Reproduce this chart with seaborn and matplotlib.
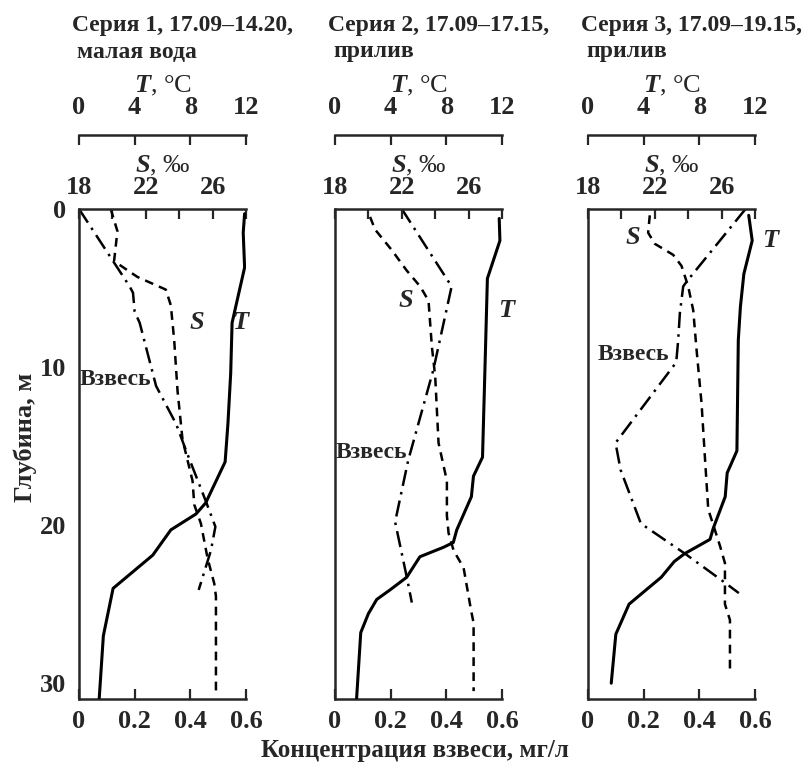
import matplotlib
matplotlib.use("Agg")
import matplotlib.pyplot as plt
import seaborn as sns
import pandas as pd

# ---------------- data ----------------
# Series 1
t1_depth = [0.3, 1.5, 3.7, 7.2, 10.4, 13.6, 16.0, 18.6, 19.3, 20.3, 21.9, 24.0, 27.0, 31.0]
t1_temp = [11.9, 11.8, 11.9, 11.0, 10.9, 10.7, 10.5, 9.1, 8.4, 6.6, 5.3, 2.45, 1.75, 1.45]
s1_depth = [0.0, 1.4, 3.3, 4.3, 5.1, 6.1, 8.3, 11.5, 14.6, 17.2, 18.7, 19.9, 21.0, 22.1, 23.7, 24.5, 30.6]
s1_sal = [19.9, 20.3, 20.1, 21.5, 23.2, 23.5, 23.7, 23.9, 24.2, 24.8, 24.9, 25.3, 25.5, 25.7, 26.1, 26.2, 26.2]
c1_depth = [0.0, 4.9, 5.3, 6.5, 7.2, 11.2, 13.6, 15.3, 18.5, 20.1, 21.6, 24.1]
c1_conc = [0.0, 0.182, 0.194, 0.20, 0.218, 0.277, 0.349, 0.385, 0.456, 0.49, 0.474, 0.43]

# Series 2
t2_depth = [0.6, 2.0, 4.4, 9.3, 15.7, 16.9, 18.2, 20.3, 21.1, 21.4, 22.0, 23.3, 24.1, 24.7, 25.6, 26.8, 31.0]
t2_temp = [11.8, 11.85, 10.95, 10.8, 10.6, 9.95, 9.8, 8.75, 8.5, 7.8, 6.1, 5.15, 3.95, 3.0, 2.4, 1.85, 1.55]
s2_depth = [0.5, 1.3, 2.6, 3.9, 4.9, 5.8, 8.7, 10.6, 14.8, 17.2, 19.4, 20.5, 21.6, 22.7, 25.4, 26.2, 30.5]
s2_sal = [20.1, 20.4, 21.4, 22.3, 23.1, 23.6, 23.8, 24.0, 24.2, 24.7, 24.7, 24.8, 25.1, 25.7, 26.15, 26.3, 26.3]
c2_depth = [0.0, 4.9, 10.2, 15.9, 19.3, 19.8, 23.3, 24.9]
c2_conc = [0.24, 0.419, 0.353, 0.263, 0.222, 0.216, 0.258, 0.276]

# Series 3
t3_depth = [0.4, 2.0, 4.1, 6.2, 8.3, 15.3, 16.7, 18.2, 20.2, 20.9, 21.8, 22.3, 23.3, 24.1, 25.0, 26.9, 30.0]
t3_temp = [11.55, 11.8, 11.2, 10.95, 10.8, 10.7, 10.0, 9.86, 9.0, 8.77, 6.95, 6.2, 5.26, 4.17, 2.95, 2.0, 1.67]
s3_depth = [0.4, 1.5, 2.2, 2.9, 3.6, 4.9, 6.4, 8.9, 12.3, 15.7, 19.0, 21.3, 22.4, 25.0, 26.0, 29.3]
s3_sal = [21.7, 21.6, 22.0, 23.1, 23.6, 24.0, 24.3, 24.5, 24.8, 25.0, 25.2, 25.9, 26.2, 26.2, 26.5, 26.5]
c3_depth = [0.0, 4.6, 4.9, 6.6, 8.3, 9.7, 14.8, 16.5, 19.9, 21.8, 23.5, 24.3]
c3_conc = [0.566, 0.354, 0.342, 0.33, 0.324, 0.317, 0.099, 0.117, 0.19, 0.348, 0.481, 0.542]

titles = [("Серия 1, 17.09–14.20,", "малая вода"),
          ("Серия 2, 17.09–17.15,", "прилив"),
          ("Серия 3, 17.09–19.15,", "прилив")]
conc_ticks = [0, 0.2, 0.4, 0.6]
conc_labels = ["0", "0.2", "0.4", "0.6"]
sal_ticks = [18, 20, 22, 24, 26, 28]
sal_labels = ["18", "", "22", "", "26", ""]
temp_ticks = [0, 4, 8, 12]
temp_labels = ["0", "4", "8", "12"]
depth_ticks = [0, 10, 20, 30]
depth_labels = ["0", "10", "20", "30"]

series = [
    (t1_depth, t1_temp, s1_depth, s1_sal, c1_depth, c1_conc),
    (t2_depth, t2_temp, s2_depth, s2_sal, c2_depth, c2_conc),
    (t3_depth, t3_temp, s3_depth, s3_sal, c3_depth, c3_conc),
]
# label positions (conc, depth) for S, T, Взвесь
label_pos = [
    ((0.425, 7.2), (0.579, 7.2), (0.004, 10.8)),
    ((0.255, 5.8), (0.614, 6.4), (0.004, 15.4)),
    ((0.160, 1.8), (0.655, 2.0), (0.033, 9.2)),
]

# ---------------- style ----------------
sns.set_style("white")
plt.rcParams["font.family"] = ["Liberation Serif", "DejaVu Serif"]
plt.rcParams["font.weight"] = "bold"
plt.rcParams["mathtext.fontset"] = "custom"
plt.rcParams["mathtext.rm"] = "Liberation Serif:bold"
plt.rcParams["mathtext.it"] = "Liberation Serif:italic:bold"
plt.rcParams["axes.linewidth"] = 1.8

FS = 19
fig = plt.figure(figsize=(8.08, 7.70), dpi=100)
lefts = [79 / 808, 335 / 808, 588 / 808]
width = 167 / 808
bottom = 1 - 699 / 770
height = (699 - 209) / 770

dash = (0, (3.5, 2.5))
dashdot = (0, (6.5, 2.5, 1.0, 2.5))

for i, (left, ser) in enumerate(zip(lefts, series)):
    td, tv, sd, sv, cd, cv = ser
    ax = fig.add_axes([left, bottom, width, height])
    axS = ax.twiny()
    axT = ax.twiny()

    dfc = pd.DataFrame({"conc": cv, "depth": cd})
    dfs = pd.DataFrame({"sal": sv, "depth": sd})
    dft = pd.DataFrame({"temp": tv, "depth": td})

    sns.lineplot(data=dfc, x="conc", y="depth", sort=False, estimator=None,
                 ax=ax, color="black", lw=1.8, linestyle=dashdot)
    sns.lineplot(data=dfs, x="sal", y="depth", sort=False, estimator=None,
                 ax=axS, color="black", lw=1.8, linestyle=dash)
    sns.lineplot(data=dft, x="temp", y="depth", sort=False, estimator=None,
                 ax=axT, color="black", lw=2.2, linestyle="-")

    ax.set_xlim(0, 0.6)
    axS.set_xlim(18, 28)
    axT.set_xlim(0, 12)
    ax.set_ylim(31, 0)

    for a in (ax, axS, axT):
        a.spines["right"].set_visible(False)
        a.set_ylabel("")
    ax.spines["top"].set_visible(False)
    for a in (axS, axT):
        a.spines["left"].set_visible(False)
        a.spines["bottom"].set_visible(False)
    axT.spines["top"].set_position(("outward", 53))

    ax.set_xticks(conc_ticks)
    ax.set_xticklabels(conc_labels)
    ax.set_yticks(depth_ticks)
    if i == 0:
        ax.set_yticklabels(depth_labels)
    else:
        ax.set_yticklabels([])
    ax.set_xlabel("")
    ax.tick_params(axis="x", direction="in", length=7, width=1.6,
                   labelsize=FS, pad=8)
    ax.tick_params(axis="y", direction="in", length=7, width=1.6,
                   labelsize=FS, pad=9)

    axS.set_xticks(sal_ticks)
    axS.set_xticklabels(sal_labels)
    axS.tick_params(axis="x", direction="in", length=7, width=1.6,
                    labelsize=FS, pad=7)
    axS.set_xlabel("$S$, ‰", fontsize=FS, labelpad=3)

    axT.set_xticks(temp_ticks)
    axT.set_xticklabels(temp_labels)
    axT.tick_params(axis="x", direction="in", length=7, width=1.6,
                    labelsize=FS, pad=12)
    axT.set_xlabel("$T$, °C", fontsize=FS, labelpad=2)

    (sx, sy), (tx, ty), (vx, vy) = label_pos[i]
    ax.text(sx, sy, "S", fontsize=19, fontstyle="italic", ha="center", va="center")
    ax.text(tx, ty, "T", fontsize=19, fontstyle="italic", ha="center", va="center")
    ax.text(vx, vy, "Взвесь", fontsize=17, ha="left", va="center")

    l1, l2 = titles[i]
    fig.text(left - 7 / 808, 1 - 25 / 770, l1, fontsize=17, ha="left", va="center")
    fig.text(left - 2 / 808, 1 - 52 / 770, l2, fontsize=17, ha="left", va="center")

fig.text(25 / 808, 1 - 437 / 770, "Глубина, м", rotation=90, fontsize=19,
         ha="center", va="center")
fig.text(415 / 808, 1 - 750 / 770, "Концентрация взвеси, мг/л", fontsize=18,
         ha="center", va="center")

fig.savefig("out.png", dpi=100)
